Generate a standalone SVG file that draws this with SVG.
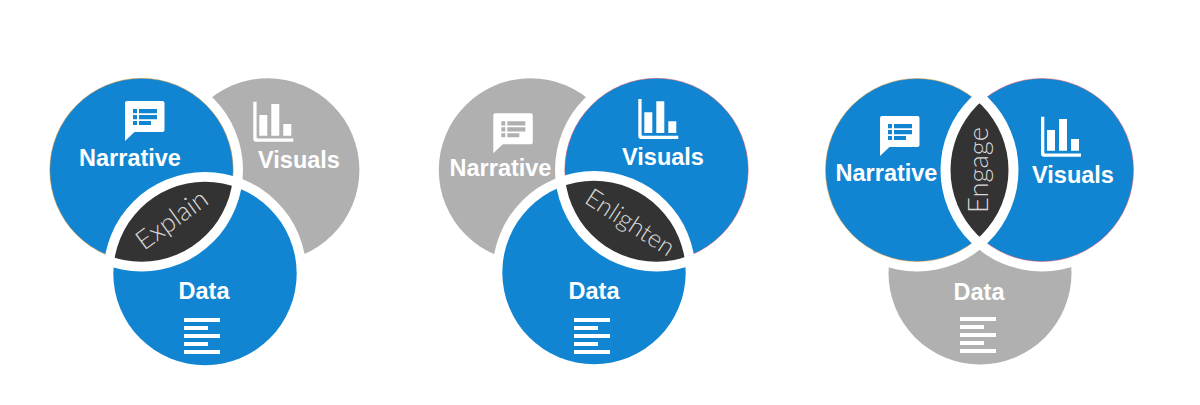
<svg xmlns="http://www.w3.org/2000/svg" width="1200" height="405" viewBox="0 0 1200 405">
<style>
.blue{fill:#1185d2}
.gray{fill:#b0b0b0}
.dark{fill:#333333}
.orange{stroke:#e8962a;stroke-width:.5}
.red{stroke:#e8505a;stroke-width:.5}
.lbl{font-family:"Liberation Sans",Arial,sans-serif;font-weight:700;font-size:23.5px;fill:#ffffff;text-anchor:middle}
.thin{font-family:"Lato","Open Sans",sans-serif;font-weight:300;fill:#d8d8d8;text-anchor:middle}
</style>
<defs>
<g id="bubble">
<path fill="#fff" d="M2 0H37.500a2 2 0 0 1 2 2V29a2 2 0 0 1-2 2H9.500L0 40V2a2 2 0 0 1 2-2Z"/>
<path fill="currentColor" d="M8 8h4v4.300h-4ZM14 8h18v4.300h-18ZM8 14h4v4.300h-4ZM14 14h18v4.300h-18ZM8 20h4v4h-4ZM14 20h12v4h-12Z"/>
</g>
<g id="bars" fill="#fff">
<path d="M0 0h3.300V35.500a1.300 1.300 0 0 0 1.300 1.300H40v3.200H3a3 3 0 0 1-3-3Z"/>
<path d="M6 13.300h8V34H6ZM18 2.300h8V34H18ZM30 22.300h8V34H30Z"/>
</g>
<path id="doc" fill="#fff" d="M0 0h36v4H0ZM0 8h24v4H0ZM0 16h36v4H0ZM0 24h24v4H0ZM0 32h36v4H0Z"/>

<mask id="m1n" maskUnits="userSpaceOnUse" x="0" y="0" width="1200" height="405"><rect width="1200" height="405" fill="#fff"/><circle cx="205" cy="273.500" r="101.500" fill="#000"/></mask>
<mask id="m1d" maskUnits="userSpaceOnUse" x="0" y="0" width="1200" height="405"><rect width="1200" height="405" fill="#fff"/><circle cx="141.500" cy="170" r="101.500" fill="#000"/></mask>
<mask id="m1v" maskUnits="userSpaceOnUse" x="0" y="0" width="1200" height="405"><rect width="1200" height="405" fill="#fff"/><circle cx="141.500" cy="170" r="101.500" fill="#000"/><circle cx="205" cy="273.500" r="101.500" fill="#000"/></mask>
<clipPath id="c1"><circle cx="205" cy="273.500" r="91.700"/></clipPath>

<mask id="m2v" maskUnits="userSpaceOnUse" x="0" y="0" width="1200" height="405"><rect width="1200" height="405" fill="#fff"/><circle cx="594" cy="272.500" r="101.500" fill="#000"/></mask>
<mask id="m2d" maskUnits="userSpaceOnUse" x="0" y="0" width="1200" height="405"><rect width="1200" height="405" fill="#fff"/><circle cx="656.500" cy="170" r="101.500" fill="#000"/></mask>
<mask id="m2n" maskUnits="userSpaceOnUse" x="0" y="0" width="1200" height="405"><rect width="1200" height="405" fill="#fff"/><circle cx="656.500" cy="170" r="101.500" fill="#000"/><circle cx="594" cy="272.500" r="101.500" fill="#000"/></mask>
<clipPath id="c2"><circle cx="594" cy="272.500" r="91.700"/></clipPath>

<mask id="m3n" maskUnits="userSpaceOnUse" x="0" y="0" width="1200" height="405"><rect width="1200" height="405" fill="#fff"/><circle cx="1042" cy="170" r="101.500" fill="#000"/></mask>
<mask id="m3v" maskUnits="userSpaceOnUse" x="0" y="0" width="1200" height="405"><rect width="1200" height="405" fill="#fff"/><circle cx="917" cy="170" r="101.500" fill="#000"/></mask>
<mask id="m3d" maskUnits="userSpaceOnUse" x="0" y="0" width="1200" height="405"><rect width="1200" height="405" fill="#fff"/><circle cx="917" cy="170" r="101.500" fill="#000"/><circle cx="1042" cy="170" r="101.500" fill="#000"/></mask>
<clipPath id="c3"><circle cx="1042" cy="170" r="91.500"/></clipPath>
</defs>

<rect width="1200" height="405" fill="#ffffff"/>

<g id="explain-venn">
<g id="explain-visuals">
<circle class="gray" cx="267.700" cy="170" r="91.700" mask="url(#m1v)"/>
<use href="#bars" x="253.300" y="101.700"/>
<text class="lbl" x="299" y="167.500">Visuals</text>
</g>
<g id="explain-narrative">
<circle class="blue orange" cx="141.500" cy="170" r="91.700" mask="url(#m1n)"/>
<use href="#bubble" x="125" y="101" color="#1185d2"/>
<text class="lbl" x="130" y="165.700">Narrative</text>
</g>
<g id="explain-data">
<circle class="blue" cx="205" cy="273.500" r="91.700" mask="url(#m1d)"/>
<use href="#doc" x="184" y="318"/>
<text class="lbl" x="204" y="299">Data</text>
</g>
<g id="explain-lens">
<circle class="dark" cx="141.500" cy="170" r="91.700" clip-path="url(#c1)"/>
<text class="thin" font-size="26.500" transform="translate(177 227) rotate(-36)">Explain</text>
</g>
</g>

<g id="enlighten-venn">
<g id="enlighten-narrative">
<circle class="gray" cx="530.500" cy="170" r="91.700" mask="url(#m2n)"/>
<use href="#bubble" x="493.300" y="113.300" color="#b0b0b0"/>
<text class="lbl" x="500.500" y="176">Narrative</text>
</g>
<g id="enlighten-visuals">
<circle class="blue red" cx="656.500" cy="170" r="91.700" mask="url(#m2v)"/>
<use href="#bars" x="638.300" y="99"/>
<text class="lbl" x="663" y="164.500">Visuals</text>
</g>
<g id="enlighten-data">
<circle class="blue" cx="594" cy="272.500" r="91.700" mask="url(#m2d)"/>
<use href="#doc" x="574" y="318"/>
<text class="lbl" x="594" y="299">Data</text>
</g>
<g id="enlighten-lens">
<circle class="dark" cx="656.500" cy="170" r="91.700" clip-path="url(#c2)"/>
<text class="thin" font-size="25" transform="translate(625.500 229.500) rotate(33)">Enlighten</text>
</g>
</g>

<g id="engage-venn">
<g id="engage-data">
<circle class="gray" cx="980" cy="273" r="91.500" mask="url(#m3d)"/>
<use href="#doc" x="960" y="317"/>
<text class="lbl" x="979" y="300">Data</text>
</g>
<g id="engage-narrative">
<circle class="blue orange" cx="917" cy="170" r="91.500" mask="url(#m3n)"/>
<use href="#bubble" x="880" y="116" color="#1185d2"/>
<text class="lbl" x="886.500" y="180.500">Narrative</text>
</g>
<g id="engage-visuals">
<circle class="blue red" cx="1042" cy="170" r="91.500" mask="url(#m3v)"/>
<use href="#bars" x="1041" y="116.700"/>
<text class="lbl" x="1073" y="182.500">Visuals</text>
</g>
<g id="engage-lens">
<circle class="dark" cx="917" cy="170" r="91.500" clip-path="url(#c3)"/>
<text class="thin" font-size="27.500" transform="translate(988 170) rotate(-90)">Engage</text>
</g>
</g>
</svg>
